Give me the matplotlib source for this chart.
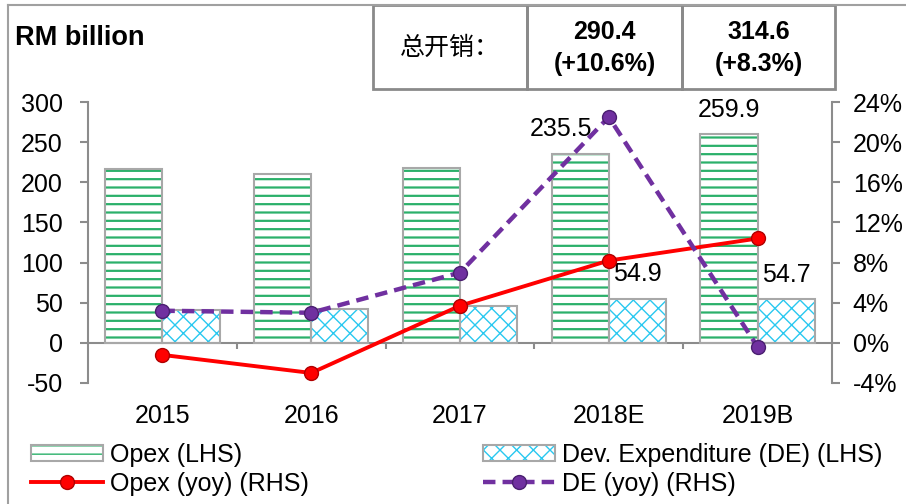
import matplotlib
matplotlib.use("Agg")
import matplotlib.pyplot as plt
from matplotlib.patches import Patch, Rectangle
from matplotlib.lines import Line2D
from matplotlib.ticker import FuncFormatter, FixedLocator

plt.rcParams['font.family'] = ['Liberation Sans', 'DejaVu Sans']
plt.rcParams['axes.unicode_minus'] = False
plt.rcParams['hatch.linewidth'] = 1.6

# ---- data ----
categories = ['2015', '2016', '2017', '2018E', '2019B']
opex = [216.5, 210.0, 217.5, 235.5, 259.9]
dev_exp = [40.5, 42.0, 45.5, 54.9, 54.7]
opex_yoy = [-1.2, -3.0, 3.7, 8.2, 10.4]
de_yoy = [3.2, 3.0, 7.0, 22.5, -0.4]
opex_labels = ['', '', '', '235.5', '259.9']
de_labels = ['', '', '', '54.9', '54.7']
left_ticks = [-50, 0, 50, 100, 150, 200, 250, 300]
right_ticks = [-4, 0, 4, 8, 12, 16, 20, 24]
header_label = '总开销：'
header_values = ['290.4\n(+10.6%)', '314.6\n(+8.3%)']

GREEN = '#2BB06A'
CYAN = '#29C8F0'
RED = '#FF0000'
PURPLE = '#7030A0'
GRAY = '#8C8C8C'
OUTLINE = '#A8A8A8'
FS = 18

fig = plt.figure(figsize=(9.06, 5.04), dpi=100)
ax = fig.add_axes([88/906, 1-383/504, (832-88)/906, (383-102)/504])

x = list(range(len(categories)))
w = 0.385
xo = [i - w/2 for i in x]
xd = [i + w/2 for i in x]

# bars: hatched fill + gray outline
ax.bar(xo, opex, width=w, color='white', edgecolor=GREEN, hatch='--', linewidth=0, zorder=2)
ax.bar(xo, opex, width=w, fill=False, edgecolor=OUTLINE, linewidth=1.5, zorder=3)
h_opex = Patch(facecolor='white', edgecolor=GREEN, hatch='--', lw=0)
plt.rcParams['hatch.linewidth'] = 1.0
ax.bar(xd, dev_exp, width=w, color='white', edgecolor=CYAN, hatch='xx', linewidth=0, zorder=2)
ax.bar(xd, dev_exp, width=w, fill=False, edgecolor=OUTLINE, linewidth=1.5, zorder=3)
h_de = Patch(facecolor='white', edgecolor=CYAN, hatch='xx', lw=0)
h_outline = Patch(fill=False, edgecolor=OUTLINE, lw=1.5)

for xi, v, lab in zip(xo, opex, opex_labels):
    if lab:
        dx = -14 if lab == '235.5' else 0
        ax.annotate(lab, (xi, v), xytext=(dx, 17.5), textcoords='offset points',
                    ha='center', va='center', fontsize=FS, zorder=5)
for xi, v, lab in zip(xd, dev_exp, de_labels):
    if lab:
        ax.annotate(lab, (xi, v), xytext=(0, 17.5), textcoords='offset points',
                    ha='center', va='center', fontsize=FS, zorder=5)

ax.set_xlim(-0.5, len(categories) - 0.5)
ax.set_ylim(-50, 300)
ax.set_yticks(left_ticks)
ax.tick_params(axis='y', direction='out', length=6, width=1.5, color=GRAY, pad=12, labelsize=FS)

ax.spines['top'].set_visible(False)
ax.spines['right'].set_visible(False)
ax.spines['left'].set_color(GRAY)
ax.spines['left'].set_linewidth(1.5)
ax.spines['bottom'].set_position(('data', 0))
ax.spines['bottom'].set_color(GRAY)
ax.spines['bottom'].set_linewidth(1.5)
ax.set_xticks(x)
ax.set_xticklabels(categories)
ax.xaxis.set_minor_locator(FixedLocator([i + 0.5 for i in x[:-1]]))
ax.tick_params(axis='x', which='major', length=0, pad=44, labelsize=FS)
ax.tick_params(axis='x', which='minor', length=4, width=1.5, color=GRAY, direction='out')

ax2 = ax.twinx()
ax2.set_ylim(-4, 24)
ax2.set_yticks(right_ticks)
ax2.yaxis.set_major_formatter(FuncFormatter(lambda v, p: f'{v:.0f}%'))
ax2.tick_params(axis='y', direction='out', length=6, width=1.5, color=GRAY, pad=9, labelsize=FS)
for s in ['top', 'left', 'bottom']:
    ax2.spines[s].set_visible(False)
ax2.spines['right'].set_color(GRAY)
ax2.spines['right'].set_linewidth(1.5)

ax2.plot(x, opex_yoy, color=RED, lw=2.8, marker='o', ms=10,
         markerfacecolor=RED, markeredgecolor='#B00000', zorder=4)
ax2.plot(x, de_yoy, color=PURPLE, lw=3.2, dashes=(2.8, 1.6), marker='o', ms=10,
         markerfacecolor=PURPLE, markeredgecolor='#4A1F70', zorder=4)

# title text
fig.text(15/906, 1-38/504, 'RM billion', fontsize=19.5, fontweight='bold', ha='left', va='center')

# frame lines
fig.add_artist(Line2D([8/906, 8/906], [0, 1-5/504], transform=fig.transFigure, color='#A0A0A0', lw=1.5))
fig.add_artist(Line2D([8/906, 1], [1-5/504, 1-5/504], transform=fig.transFigure, color='#A0A0A0', lw=1.5))

# header table
cells = [(373, 527), (527, 682), (682, 835)]
top, bot = 5, 89
for (x0, x1) in cells:
    fig.add_artist(Rectangle((x0/906, 1-bot/504), (x1-x0)/906, (bot-top)/504,
                             transform=fig.transFigure, fill=False, edgecolor='#8A8A8A', lw=2))
fig.text((cells[0][0]+cells[0][1])/2/906, 1-48/504, header_label, fontsize=FS,
         family=['Noto Sans CJK SC', 'DejaVu Sans'], ha='center', va='center')
for (x0, x1), t in zip(cells[1:], header_values):
    fig.text((x0+x1)/2/906, 1-48/504, t, fontsize=FS, fontweight='bold',
             ha='center', va='center', linespacing=1.45)

# legends
h_opex_l = Line2D([], [], color=RED, lw=2.8, marker='o', ms=10, markerfacecolor=RED, markeredgecolor='#B00000')
h_de_l = Line2D([], [], color=PURPLE, lw=3.2, dashes=(2.8, 1.6), marker='o', ms=10,
                markerfacecolor=PURPLE, markeredgecolor='#4A1F70')

kw = dict(loc='upper left', frameon=False, fontsize=FS, handlelength=2.9, handletextpad=0.25,
          labelspacing=0.18, borderpad=0, borderaxespad=0, handleheight=0.6)
fig.legend([(h_opex, h_outline), h_opex_l], ['Opex (LHS)', 'Opex (yoy) (RHS)'],
           bbox_to_anchor=(31/906, 1-443/504), **kw)
fig.legend([(h_de, h_outline), h_de_l], ['Dev. Expenditure (DE) (LHS)', 'DE (yoy) (RHS)'],
           bbox_to_anchor=(483/906, 1-443/504), **kw)

fig.savefig('out.png', dpi=100)
